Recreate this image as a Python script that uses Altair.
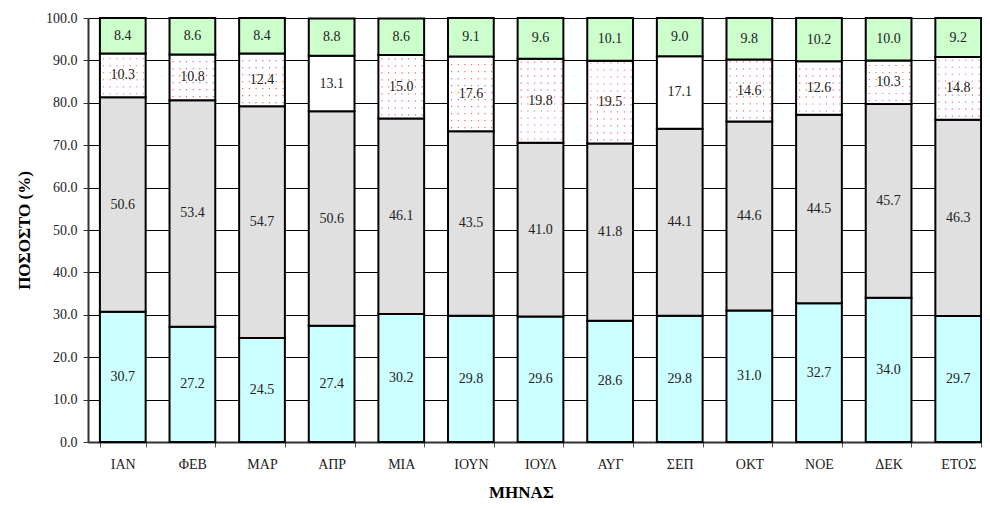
import altair as alt
import pandas as pd

months = ["ΙΑΝ", "ΦΕΒ", "ΜΑΡ", "ΑΠΡ", "ΜΙΑ", "ΙΟΥΝ", "ΙΟΥΛ", "ΑΥΓ", "ΣΕΠ", "ΟΚΤ", "ΝΟΕ", "ΔΕΚ", "ΕΤΟΣ"]
s1 = [30.7, 27.2, 24.5, 27.4, 30.2, 29.8, 29.6, 28.6, 29.8, 31.0, 32.7, 34.0, 29.7]
s2 = [50.6, 53.4, 54.7, 50.6, 46.1, 43.5, 41.0, 41.8, 44.1, 44.6, 44.5, 45.7, 46.3]
s3 = [10.3, 10.8, 12.4, 13.1, 15.0, 17.6, 19.8, 19.5, 17.1, 14.6, 12.6, 10.3, 14.8]
s4 = [8.4, 8.6, 8.4, 8.8, 8.6, 9.1, 9.6, 10.1, 9.0, 9.8, 10.2, 10.0, 9.2]
dotted = [True, True, True, False, True, True, True, True, False, True, True, True, True]

series_names = ["s1", "s2", "s3", "s4"]
series_colors = ["#CCFFFF", "#E0E0E0", "#FFFFFF", "#CCFFCC"]

rows = []
dots = []
for i, m in enumerate(months):
    lo = 0.0
    for name, vals in zip(series_names, [s1, s2, s3, s4]):
        v = vals[i]
        hi = lo + v
        rows.append({"month": m, "series": name, "lo": lo, "hi": hi,
                     "mid": (lo + hi) / 2, "value": v})
        if name == "s3" and dotted[i]:
            y = lo + 0.85
            while y < hi - 0.4:
                dots.append({"month": m, "y": y})
                y += 1.65
        lo = hi

df = pd.DataFrame(rows)
df_dots = pd.DataFrame(dots)

FONT = "Liberation Serif"

x_scale = alt.Scale(domain=months, paddingInner=0.343, paddingOuter=0.171)
y_scale = alt.Scale(domain=[0, 100], nice=False)

x_enc = alt.X(
    "month:N", sort=months, scale=x_scale,
    axis=alt.Axis(title="ΜΗΝΑΣ", labelAngle=0, tickBand="extent", grid=False,
                  domainColor="#333", domainWidth=2, tickColor="#555", tickSize=5,
                  labelPadding=10, titlePadding=13, titleFontSize=17, titleFontWeight="bold",
                  labelFontSize=14, titleX=433),
)

bars = alt.Chart(df).mark_bar(stroke="black", strokeWidth=2).encode(
    x=x_enc,
    y=alt.Y("lo:Q", scale=y_scale,
            axis=alt.Axis(title="ΠΟΣΟΣΤΟ (%)", values=list(range(0, 101, 10)), format=".1f",
                          grid=True, gridColor="#000", gridWidth=1,
                          domainColor="#333", domainWidth=2, tickColor="#333", tickSize=5,
                          labelPadding=6, titlePadding=12, titleFontSize=17, titleFontWeight="bold",
                          labelFontSize=14)),
    y2="hi:Q",
    color=alt.Color("series:N", scale=alt.Scale(domain=series_names, range=series_colors), legend=None),
)

dot_layer = alt.Chart(df_dots).mark_rule(
    color="#ff2020", strokeWidth=1.1, strokeDash=[1.1, 5.6], strokeDashOffset=-3, opacity=0.75
).encode(
    x=alt.X("month:N", sort=months, scale=x_scale, bandPosition=0),
    x2=alt.X2("month:N", bandPosition=1),
    y=alt.Y("y:Q", scale=y_scale),
)

labels = alt.Chart(df).mark_text(font=FONT, fontSize=14, color="#222").encode(
    x=alt.X("month:N", sort=months, scale=x_scale),
    y=alt.Y("mid:Q", scale=y_scale),
    text=alt.Text("value:Q", format=".1f"),
)

chart = alt.layer(bars, dot_layer, labels).properties(
    width=905, height=424,
    autosize=alt.AutoSizeParams(type="none"),
    padding={"left": 80, "top": 10, "right": -11, "bottom": 58},
).configure_view(stroke=None).configure_axis(
    labelFont=FONT, titleFont=FONT, labelColor="#222", titleColor="#000",
)

chart.save("out.html", embed_options={"renderer": "svg", "actions": False})
